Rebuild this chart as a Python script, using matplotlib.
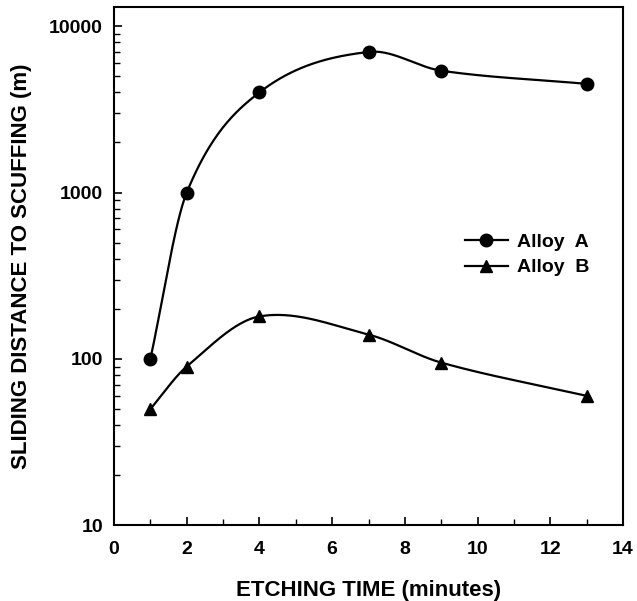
import numpy as np
import matplotlib
matplotlib.use('Agg')
import matplotlib.pyplot as plt
from matplotlib.ticker import LogLocator, NullFormatter, FixedLocator

plt.rcParams['font.family'] = ['Liberation Sans', 'DejaVu Sans']
plt.rcParams['font.weight'] = 'bold'

# Data
etch_time = [1, 2, 4, 7, 9, 13]
alloy_a = [100, 1000, 4000, 7000, 5400, 4500]
alloy_b = [50, 90, 180, 140, 95, 60]


def smooth_curve(x, y, xs):
    # Catmull-Rom style cubic Hermite through the points (smooth connecting line)
    x = np.asarray(x, float)
    y = np.asarray(y, float)
    n = len(x)
    m = np.empty(n)
    m[0] = (y[1] - y[0]) / (x[1] - x[0])
    m[-1] = (y[-1] - y[-2]) / (x[-1] - x[-2])
    m[1:-1] = (y[2:] - y[:-2]) / (x[2:] - x[:-2])
    out = np.empty_like(xs)
    for k, xv in enumerate(xs):
        i = int(np.clip(np.searchsorted(x, xv) - 1, 0, n - 2))
        h = x[i + 1] - x[i]
        t = (xv - x[i]) / h
        h00 = 2 * t ** 3 - 3 * t ** 2 + 1
        h10 = t ** 3 - 2 * t ** 2 + t
        h01 = -2 * t ** 3 + 3 * t ** 2
        h11 = t ** 3 - t ** 2
        out[k] = h00 * y[i] + h10 * h * m[i] + h01 * y[i + 1] + h11 * h * m[i + 1]
    return out


fig = plt.figure(figsize=(6.37, 6.01), dpi=100)
ax = fig.add_axes([0.179, 0.126, 0.799, 0.862])

xs = np.linspace(etch_time[0], etch_time[-1], 400)
for vals, mk, ms, lab in [(alloy_a, 'o', 9, 'Alloy  A'), (alloy_b, '^', 8.5, 'Alloy  B')]:
    ys = 10 ** smooth_curve(etch_time, np.log10(vals), xs)
    ax.plot(xs, ys, color='black', lw=1.6)
    ax.plot(etch_time, vals, linestyle='none', marker=mk, ms=ms, color='black')
    ax.plot([], [], color='black', lw=1.6, marker=mk, ms=ms, label=lab)

ax.set_yscale('log')
ax.set_xlim(0, 14)
ax.set_ylim(10, 13000)
ax.set_xticks(range(0, 15, 2))
ax.xaxis.set_minor_locator(FixedLocator(range(1, 14, 2)))
ax.yaxis.set_major_locator(FixedLocator([10, 100, 1000, 10000]))
ax.yaxis.set_minor_locator(LogLocator(base=10, subs=np.arange(2, 10)))
ax.yaxis.set_minor_formatter(NullFormatter())
ax.set_yticklabels(['10', '100', '1000', '10000'])
ax.tick_params(which='both', direction='in', right=False, top=False, labelsize=14, pad=8)
ax.tick_params(axis='x', which='both', pad=11)
ax.tick_params(which='major', length=6, width=1.2)
ax.tick_params(which='minor', length=4, width=1)
for s in ax.spines.values():
    s.set_linewidth(1.5)

ax.set_xlabel('ETCHING TIME (minutes)', fontsize=16, fontweight='bold', labelpad=16)
ax.set_ylabel('SLIDING DISTANCE TO SCUFFING (m)', fontsize=16, fontweight='bold', labelpad=12)

ax.legend(loc='center left', bbox_to_anchor=(0.655, 0.522), frameon=False,
          fontsize=14, handlelength=2.2, handletextpad=0.5, labelspacing=0.4)

fig.savefig('out.png', dpi=100)
